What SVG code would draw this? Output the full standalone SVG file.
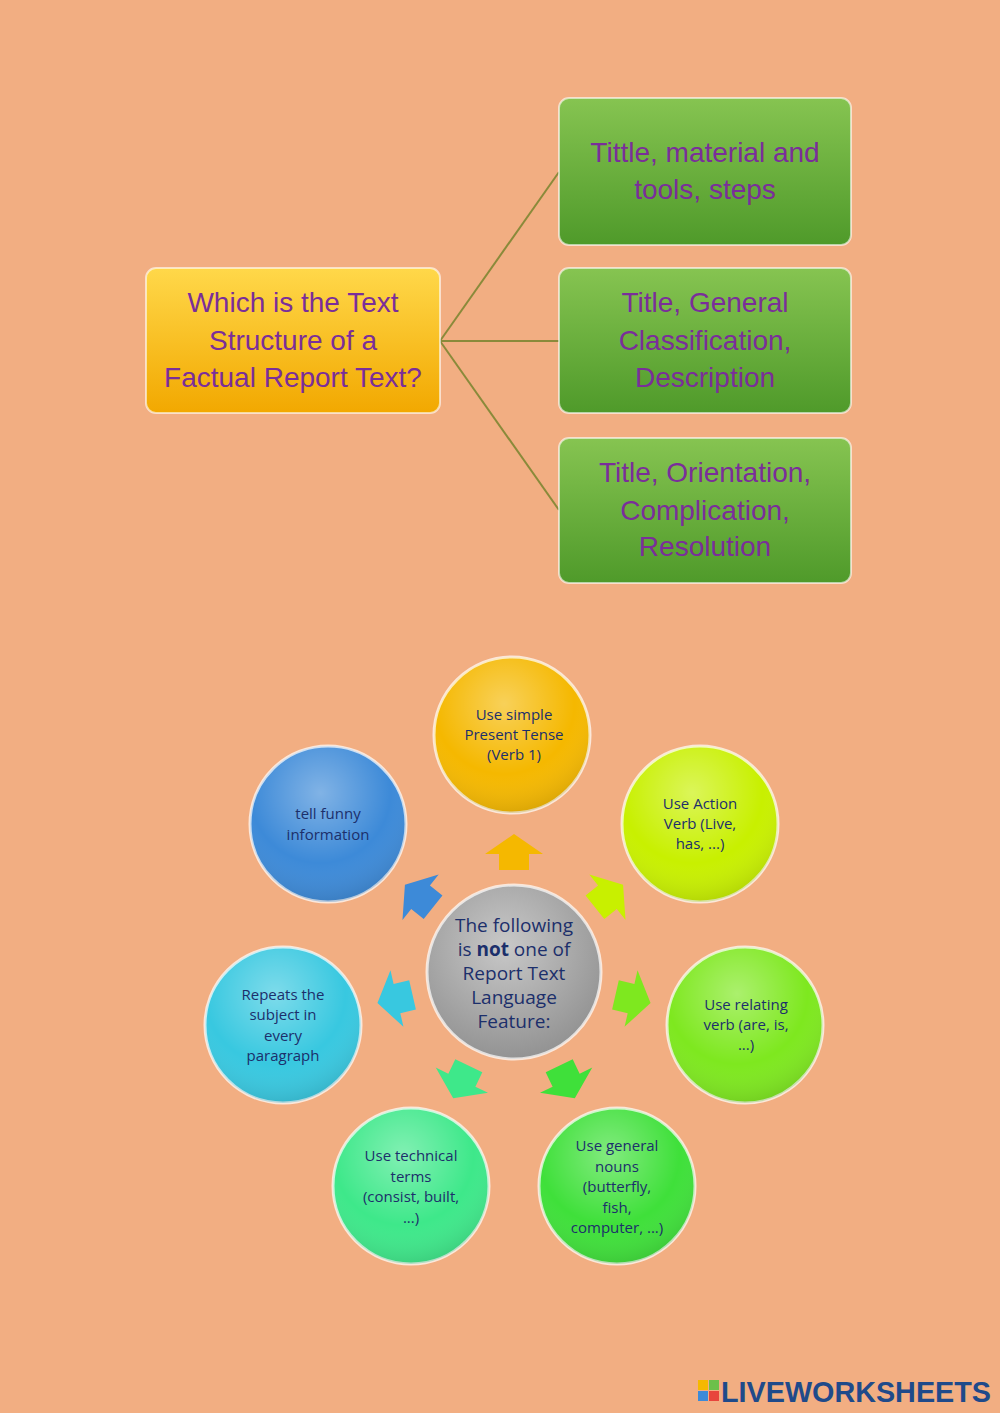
<svg xmlns="http://www.w3.org/2000/svg" width="1000" height="1413" viewBox="0 0 1000 1413">
<defs>
<linearGradient id="gold" x1="0" y1="0" x2="0" y2="1"><stop offset="0" stop-color="#ffd84a"/><stop offset="1" stop-color="#f2a800"/></linearGradient>
<linearGradient id="green" x1="0" y1="0" x2="0" y2="1"><stop offset="0" stop-color="#86c451"/><stop offset="1" stop-color="#4f9a2a"/></linearGradient>
<radialGradient id="shine" cx="0.45" cy="0.3" r="0.75"><stop offset="0" stop-color="#fff" stop-opacity="0.35"/><stop offset="0.6" stop-color="#fff" stop-opacity="0"/><stop offset="1" stop-color="#000" stop-opacity="0.15"/></radialGradient>
<radialGradient id="grey" cx="0.45" cy="0.35" r="0.7"><stop offset="0" stop-color="#c8c8c8"/><stop offset="1" stop-color="#8f8f8f"/></radialGradient>
<polygon id="arr" points="-29,2 0,-18 29,2 15,2 15,18 -15,18 -15,2"/>
</defs>
<style>
.t1{font-family:"Liberation Sans","Open Sans",sans-serif;font-size:28px;fill:#7a2e9a;text-anchor:middle}
.t2{font-family:"Open Sans","Liberation Sans",sans-serif;font-size:15px;fill:#1c2f6b;text-anchor:middle}
.t3{font-family:"Open Sans","Liberation Sans",sans-serif;font-size:19px;fill:#1c2f6b;text-anchor:middle}
.bx{stroke:#fff;stroke-opacity:0.6;stroke-width:2}
.c{stroke:#fff;stroke-opacity:0.7;stroke-width:3}
</style>
<rect width="1000" height="1413" fill="#f2ae82"/>
<g id="connectors" stroke="#8a8a3a" stroke-width="2" fill="none">
<line x1="440" y1="341" x2="559" y2="172"/><line x1="440" y1="341" x2="559" y2="341"/><line x1="440" y1="341" x2="559" y2="510"/>
</g>
<g id="q"><rect class="bx" x="146" y="268" width="294" height="145" rx="10" fill="url(#gold)"/>
<text class="t1" x="293" y="312">Which is the Text</text><text class="t1" x="293" y="350">Structure of a</text><text class="t1" x="293" y="387">Factual Report Text?</text></g>
<g id="a1"><rect class="bx" x="559" y="98" width="292" height="147" rx="10" fill="url(#green)"/>
<text class="t1" x="705" y="162">Tittle, material and</text><text class="t1" x="705" y="199">tools, steps</text></g>
<g id="a2"><rect class="bx" x="559" y="268" width="292" height="145" rx="10" fill="url(#green)"/>
<text class="t1" x="705" y="312">Title, General</text><text class="t1" x="705" y="350">Classification,</text><text class="t1" x="705" y="387">Description</text></g>
<g id="a3"><rect class="bx" x="559" y="438" width="292" height="145" rx="10" fill="url(#green)"/>
<text class="t1" x="705" y="482">Title, Orientation,</text><text class="t1" x="705" y="520">Complication,</text><text class="t1" x="705" y="556">Resolution</text></g>
<g id="arrows">
<use href="#arr" fill="#f5b800" transform="translate(514,852)"/>
<use href="#arr" fill="#c8f000" transform="translate(609,896) rotate(51.4)"/>
<use href="#arr" fill="#7ee81f" transform="translate(633,999) rotate(102.9)"/>
<use href="#arr" fill="#3fe03a" transform="translate(567,1082) rotate(154.3)"/>
<use href="#arr" fill="#3ee88a" transform="translate(461,1082) rotate(205.7)"/>
<use href="#arr" fill="#38c8e0" transform="translate(395,999) rotate(257.1)"/>
<use href="#arr" fill="#3d8ad8" transform="translate(419,896) rotate(308.6)"/>
</g>
<g id="center"><circle class="c" cx="514" cy="972" r="87" fill="url(#grey)"/>
<text class="t3" x="514" y="932">The following</text><text class="t3" x="514" y="956">is <tspan font-weight="bold">not</tspan> one of</text><text class="t3" x="514" y="980">Report Text</text><text class="t3" x="514" y="1004">Language</text><text class="t3" x="514" y="1028">Feature:</text></g>
<g id="n1"><circle class="c" cx="512" cy="735" r="78" fill="#f5b800"/><circle cx="512" cy="735" r="78" fill="url(#shine)"/>
<text class="t2" x="514" y="720">Use simple</text><text class="t2" x="514" y="740">Present Tense</text><text class="t2" x="514" y="760">(Verb 1)</text></g>
<g id="n2"><circle class="c" cx="700" cy="824" r="78" fill="#c8f000"/><circle cx="700" cy="824" r="78" fill="url(#shine)"/>
<text class="t2" x="700" y="809">Use Action</text><text class="t2" x="700" y="829">Verb (Live,</text><text class="t2" x="700" y="849">has, ...)</text></g>
<g id="n3"><circle class="c" cx="745" cy="1025" r="78" fill="#7ee81f"/><circle cx="745" cy="1025" r="78" fill="url(#shine)"/>
<text class="t2" x="746" y="1010">Use relating</text><text class="t2" x="746" y="1030">verb (are, is,</text><text class="t2" x="746" y="1050">...)</text></g>
<g id="n4"><circle class="c" cx="617" cy="1186" r="78" fill="#3fe03a"/><circle cx="617" cy="1186" r="78" fill="url(#shine)"/>
<text class="t2" x="617" y="1151">Use general</text><text class="t2" x="617" y="1172">nouns</text><text class="t2" x="617" y="1192">(butterfly,</text><text class="t2" x="617" y="1213">fish,</text><text class="t2" x="617" y="1233">computer, ...)</text></g>
<g id="n5"><circle class="c" cx="411" cy="1186" r="78" fill="#3ee88a"/><circle cx="411" cy="1186" r="78" fill="url(#shine)"/>
<text class="t2" x="411" y="1161">Use technical</text><text class="t2" x="411" y="1182">terms</text><text class="t2" x="411" y="1202">(consist, built,</text><text class="t2" x="411" y="1223">...)</text></g>
<g id="n6"><circle class="c" cx="283" cy="1025" r="78" fill="#38c8e0"/><circle cx="283" cy="1025" r="78" fill="url(#shine)"/>
<text class="t2" x="283" y="1000">Repeats the</text><text class="t2" x="283" y="1020">subject in</text><text class="t2" x="283" y="1041">every</text><text class="t2" x="283" y="1061">paragraph</text></g>
<g id="n7"><circle class="c" cx="328" cy="824" r="78" fill="#3d8ad8"/><circle cx="328" cy="824" r="78" fill="url(#shine)"/>
<text class="t2" x="328" y="819">tell funny</text><text class="t2" x="328" y="840">information</text></g>
<g id="logo">
<rect x="698" y="1380" width="10" height="10" fill="#f5b800"/><rect x="709" y="1380" width="10" height="10" fill="#6cc04a"/>
<rect x="698" y="1391" width="10" height="10" fill="#3d8ad8"/><rect x="709" y="1391" width="10" height="10" fill="#e8453c"/>
<text x="721" y="1402" font-family="Liberation Sans,sans-serif" font-weight="bold" font-size="30" fill="#1f4a8a" textLength="270" lengthAdjust="spacingAndGlyphs">LIVEWORKSHEETS</text>
</g>
</svg>
